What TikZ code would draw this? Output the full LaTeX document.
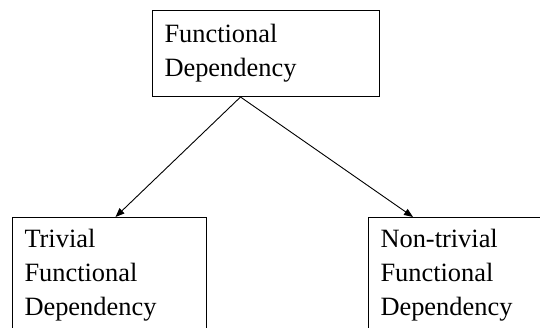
\documentclass[tikz,border=0pt]{standalone}
\usepackage{fontspec}
\setmainfont{Liberation Serif}
\usetikzlibrary{positioning, arrows.meta}

\begin{document}
\begin{tikzpicture}[x=1bp, y=-1bp,
  box/.style={draw, line width=1bp, inner xsep=12bp, align=left, anchor=north west, font=\fontsize{26.5}{34}\selectfont},
  arr/.style={-{Triangle[length=9bp,width=7bp]}, line width=0.9bp}]%Functional Dependency
\useasboundingbox (0,0) rectangle (540,327);
\clip (0,0) rectangle (540,327);
  \node[box, text width=203bp, minimum height=86bp] (fd) at (152,10) {Functional\\Dependency};
  \node[box, text width=170bp, minimum height=115bp] (triv) at (12,217) {Trivial\\Functional\\Dependency};
  \node[box, text width=170bp, minimum height=115bp] (ntriv) at (368,217) {Non-trivial\\Functional\\Dependency};
% arrows
  \draw[arr] ([xshift=-25.5bp]fd.south) -- ([xshift=6bp]triv.north);
  \draw[arr] ([xshift=-25.5bp]fd.south) -- ([xshift=45bp]ntriv.north west);
\end{tikzpicture}
\end{document}
